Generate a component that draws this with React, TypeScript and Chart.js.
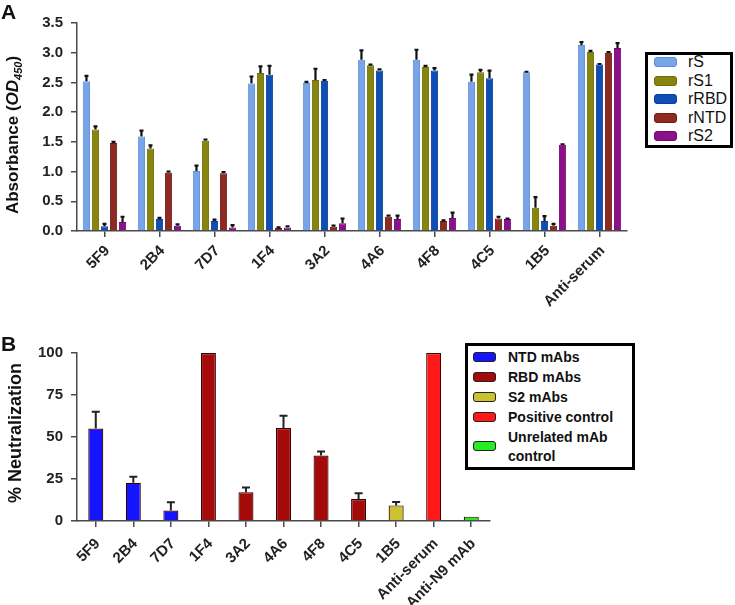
import React, { useEffect, useRef } from 'react';
import { Chart, registerables } from 'chart.js';
Chart.register(...registerables);

// ---------- Panel A data ----------
const categoriesA = ['5F9', '2B4', '7D7', '1F4', '3A2', '4A6', '4F8', '4C5', '1B5', 'Anti-serum'];
const seriesNamesA = ['rS', 'rS1', 'rRBD', 'rNTD', 'rS2'];
const rS = [2.52, 1.59, 1.01, 2.48, 2.49, 2.88, 2.88, 2.51, 2.67, 3.13];
const rS1 = [1.71, 1.39, 1.52, 2.66, 2.54, 2.79, 2.76, 2.67, 0.39, 3.01];
const rRBD = [0.08, 0.2, 0.17, 2.63, 2.53, 2.7, 2.7, 2.57, 0.17, 2.8];
const rNTD = [1.48, 0.98, 0.97, 0.05, 0.07, 0.24, 0.17, 0.21, 0.09, 3.0];
const rS2 = [0.15, 0.09, 0.06, 0.06, 0.13, 0.2, 0.22, 0.2, 1.45, 3.08];
const rSErr = [0.09, 0.1, 0.09, 0.12, 0.02, 0.16, 0.17, 0.12, 0.01, 0.05];
const rS1Err = [0.05, 0.05, 0.02, 0.11, 0.19, 0.01, 0.02, 0.04, 0.18, 0.02];
const rRBDErr = [0.04, 0.02, 0.02, 0.15, 0.01, 0.02, 0.04, 0.13, 0.08, 0.01];
const rNTDErr = [0.02, 0.02, 0.02, 0.01, 0.02, 0.02, 0.01, 0.03, 0.03, 0.01];
const rS2Err = [0.09, 0.02, 0.04, 0.02, 0.08, 0.06, 0.09, 0.01, 0.01, 0.08];
const yTicksA = [0, 0.5, 1.0, 1.5, 2.0, 2.5, 3.0, 3.5];

// ---------- Panel B data ----------
const categoriesB = ['5F9', '2B4', '7D7', '1F4', '3A2', '4A6', '4F8', '4C5', '1B5', 'Anti-serum', 'Anti-N9 mAb'];
const neutralization = [55, 22.7, 6.2, 100, 17.1, 55.3, 39, 13.1, 9.3, 100, 2.6];
const neutralizationErr = [10, 3.7, 4.9, 0, 2.9, 7.3, 2.4, 3.4, 2, 0, 0];
const groupB = [0, 0, 0, 1, 1, 1, 1, 1, 2, 3, 4];
const groupNamesB = ['NTD mAbs', 'RBD mAbs', 'S2 mAbs', 'Positive control', 'Unrelated mAb control'];
const yTicksB = [0, 25, 50, 75, 100];

// ---------- styles ----------
const colorsA = ['#78a5e8', '#85850f', '#0e4fb5', '#8e2a22', '#8c0f8c'];
const bordersA = ['#5f8fd6', '#6d6d05', '#0a3f96', '#6e1c16', '#700a70'];
const colorsB = ['#1414ff', '#a40a0a', '#cbc232', '#ff1818', '#24ee24'];
const FONT = '"Liberation Sans", Arial, Helvetica, sans-serif';
const AXIS = '#4a4a4a';

const errorBarPlugin = {
  id: 'errorBars',
  afterDatasetsDraw(chart: any, _args: any, opts: any) {
    const ctx = chart.ctx;
    const yScale = chart.scales.y;
    chart.data.datasets.forEach((ds: any, i: number) => {
      const errs = ds.errors;
      if (!errs) return;
      const meta = chart.getDatasetMeta(i);
      meta.data.forEach((el: any, j: number) => {
        const e = errs[j];
        if (!e) return;
        const yTop = yScale.getPixelForValue(ds.data[j] + e);
        ctx.save();
        ctx.strokeStyle = opts.color;
        ctx.lineWidth = opts.width;
        ctx.beginPath();
        ctx.moveTo(el.x, el.y);
        ctx.lineTo(el.x, yTop);
        ctx.moveTo(el.x - opts.cap, yTop);
        ctx.lineTo(el.x + opts.cap, yTop);
        ctx.stroke();
        ctx.restore();
      });
    });
  },
};

const yTitlePlugin = {
  id: 'yTitle',
  afterDraw(chart: any, _args: any, opts: any) {
    const ctx = chart.ctx;
    ctx.save();
    ctx.translate(opts.x, opts.y);
    ctx.rotate(-Math.PI / 2);
    ctx.fillStyle = opts.color;
    ctx.textBaseline = 'alphabetic';
    let total = 0;
    opts.parts.forEach((p: any) => {
      ctx.font = p.font;
      total += ctx.measureText(p.text).width;
    });
    let x = -total / 2;
    opts.parts.forEach((p: any) => {
      ctx.font = p.font;
      ctx.fillText(p.text, x, p.dy || 0);
      x += ctx.measureText(p.text).width;
    });
    ctx.restore();
  },
};

function axisOptions() {
  return {
    border: { display: true, color: AXIS, width: 1.5 },
    grid: { display: true, drawOnChartArea: false, drawTicks: true, tickLength: 6, color: AXIS, lineWidth: 1.5, offset: false },
  };
}

export default function App() {
  const refA = useRef<HTMLCanvasElement>(null);
  const refB = useRef<HTMLCanvasElement>(null);

  useEffect(() => {
    const valuesA = [rS, rS1, rRBD, rNTD, rS2];
    const errsA = [rSErr, rS1Err, rRBDErr, rNTDErr, rS2Err];
    const chartA = new Chart(refA.current as HTMLCanvasElement, {
      type: 'bar',
      data: {
        labels: categoriesA,
        datasets: seriesNamesA.map((name, i) => ({
          label: name,
          data: valuesA[i],
          errors: errsA[i],
          backgroundColor: colorsA[i],
          borderColor: bordersA[i],
          borderWidth: 1,
          categoryPercentage: 0.82,
          barPercentage: 0.8,
        })) as any,
      },
      options: {
        animation: false,
        responsive: false,
        devicePixelRatio: 1,
        layout: { padding: { left: 0, right: 108, top: 23, bottom: 0 } },
        plugins: {
          legend: { display: false },
          tooltip: { enabled: false },
          errorBars: { color: '#111', width: 2.2, cap: 2 },
          yTitle: {
            x: 18, y: 135, color: '#111',
            parts: [
              { text: 'Absorbance (', font: `bold 17px ${FONT}` },
              { text: 'OD', font: `italic bold 17px ${FONT}` },
              { text: '450', font: `italic bold 11px ${FONT}`, dy: 4 },
              { text: ')', font: `bold 17px ${FONT}` },
            ],
          },
        } as any,
        scales: {
          x: {
            ...axisOptions(),
            ticks: { color: '#222', font: { family: FONT, size: 15, weight: 'bold' }, maxRotation: 45, minRotation: 45, padding: 5, labelOffset: 3, autoSkip: false },
            afterFit: (s: any) => { s.height = 81; },
          } as any,
          y: {
            ...axisOptions(),
            min: 0,
            max: 3.5,
            afterBuildTicks: (s: any) => { s.ticks = yTicksA.map((v) => ({ value: v })); },
            ticks: { color: '#222', font: { family: FONT, size: 15, weight: 'bold' }, padding: 8, callback: (v: any) => Number(v).toFixed(1) },
            afterFit: (s: any) => { s.width = 77; },
          } as any,
        },
      },
      plugins: [errorBarPlugin, yTitlePlugin],
    } as any);

    const chartB = new Chart(refB.current as HTMLCanvasElement, {
      type: 'bar',
      data: {
        labels: categoriesB,
        datasets: [
          {
            label: '% Neutralization',
            data: neutralization,
            errors: neutralizationErr,
            backgroundColor: groupB.map((g) => colorsB[g]),
            borderColor: '#3a0000',
            borderWidth: 1.2,
            categoryPercentage: 1,
            barPercentage: 0.4,
          } as any,
        ],
      },
      options: {
        animation: false,
        responsive: false,
        devicePixelRatio: 1,
        layout: { padding: { left: 0, right: 245, top: 53, bottom: 0 } },
        plugins: {
          legend: { display: false },
          tooltip: { enabled: false },
          errorBars: { color: '#222', width: 2, cap: 4 },
          yTitle: {
            x: 21, y: 133, color: '#111',
            parts: [{ text: '% Neutralization', font: `bold 18px ${FONT}` }],
          },
        } as any,
        scales: {
          x: {
            ...axisOptions(),
            ticks: { color: '#222', font: { family: FONT, size: 15, weight: 'bold' }, maxRotation: 45, minRotation: 45, padding: 8, labelOffset: 2, autoSkip: false },
            afterFit: (s: any) => { s.height = 84; },
          } as any,
          y: {
            ...axisOptions(),
            min: 0,
            max: 100,
            afterBuildTicks: (s: any) => { s.ticks = yTicksB.map((v) => ({ value: v })); },
            ticks: { color: '#222', font: { family: FONT, size: 15, weight: 'bold' }, padding: 8 },
            afterFit: (s: any) => { s.width = 77; },
          } as any,
        },
      },
      plugins: [errorBarPlugin, yTitlePlugin],
    } as any);

    return () => {
      chartA.destroy();
      chartB.destroy();
    };
  }, []);

  const abs = (s: any): React.CSSProperties => ({ position: 'absolute', ...s });

  return (
    <div style={abs({ left: 0, top: 0, width: 735, height: 605, background: '#fff', fontFamily: FONT, overflow: 'hidden' })}>
      <canvas ref={refB} width={735} height={305} style={abs({ left: 0, top: 300, width: 735, height: 305 })} />
      <canvas ref={refA} width={735} height={312} style={abs({ left: 0, top: 0, width: 735, height: 312 })} />

      <div style={abs({ left: 1, top: 1, fontSize: 21, lineHeight: '21px', fontWeight: 'bold', color: '#111' })}>A</div>
      <div style={abs({ left: 1, top: 333, fontSize: 21, lineHeight: '21px', fontWeight: 'bold', color: '#111' })}>B</div>

      {/* Legend A */}
      <div style={abs({ left: 645, top: 52, width: 88, height: 96, boxSizing: 'border-box', border: '3px solid #000', background: '#fff' })} />
      {seriesNamesA.map((name, i) => (
        <React.Fragment key={name}>
          <div style={abs({ left: 654, top: 62 + 18.5 * i - 5, width: 23, height: 10, borderRadius: 3, background: colorsA[i], boxSizing: 'border-box', border: `1px solid ${bordersA[i]}` })} />
          <div style={abs({ left: 688, top: 62 + 18.5 * i - 9, height: 18, lineHeight: '18px', fontSize: 16, color: '#111', whiteSpace: 'nowrap' })}>{name}</div>
        </React.Fragment>
      ))}

      {/* Legend B */}
      <div style={abs({ left: 465, top: 343, width: 170, height: 127, boxSizing: 'border-box', border: '3px solid #000', background: '#fff' })} />
      {groupNamesB.map((name, i) => {
        const cy = [357, 377, 397, 417, 446][i];
        const words = name === 'Unrelated mAb control' ? ['Unrelated mAb', 'control'] : [name];
        return (
          <React.Fragment key={name}>
            <div style={abs({ left: 473, top: cy - 5, width: 23, height: 10, borderRadius: 3, background: colorsB[i], boxSizing: 'border-box', border: '1.5px solid #222' })} />
            {words.map((w, k) => (
              <div key={w} style={abs({ left: 508, top: (words.length > 1 ? 437 + 18.5 * k : cy) - 9, height: 18, lineHeight: '18px', fontSize: 14, fontWeight: 'bold', color: '#111', whiteSpace: 'nowrap' })}>{w}</div>
            ))}
          </React.Fragment>
        );
      })}
    </div>
  );
}
